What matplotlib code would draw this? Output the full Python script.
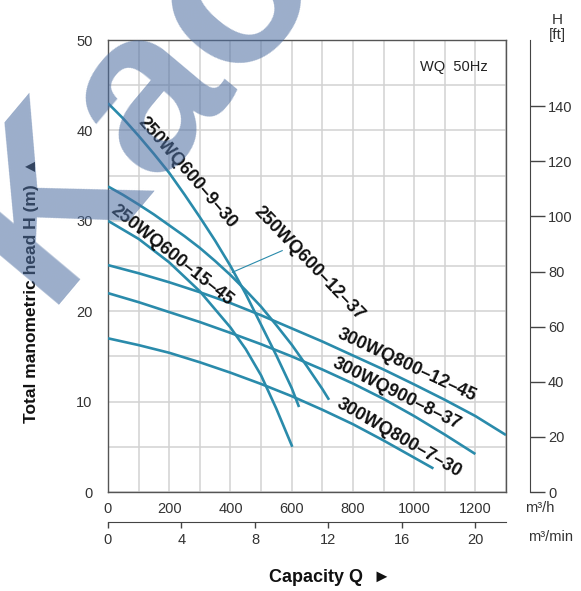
import matplotlib
matplotlib.use('Agg')
import matplotlib.pyplot as plt

plt.rcParams['font.family'] = ['Liberation Sans', 'DejaVu Sans']

# pump curves, capacity Q [m3/h] vs head H [m]
q_9_30  = [0, 50, 100, 150, 200, 250, 300, 350, 400, 450, 500, 550, 600, 624]
h_9_30  = [43.0, 41.3, 39.4, 37.4, 35.3, 32.9, 30.4, 27.8, 25.0, 21.9, 18.5, 15.1, 11.5, 9.4]
q_12_37 = [0, 50, 100, 150, 200, 250, 300, 350, 400, 450, 500, 550, 600, 650, 700, 722]
h_12_37 = [33.8, 32.85, 31.8, 30.7, 29.5, 28.3, 27.0, 25.55, 24.0, 22.3, 20.5, 18.45,
           16.3, 13.9, 11.4, 10.2]
q_15_45 = [0, 100, 200, 300, 400, 450, 500, 550, 602]
h_15_45 = [30.0, 28.0, 25.4, 22.2, 18.2, 15.8, 12.9, 9.2, 5.0]
q_800_12 = [0, 100, 200, 300, 400, 500, 600, 700, 800, 900, 1000, 1100, 1200, 1300]
h_800_12 = [25.1, 24.2, 23.2, 22.1, 20.9, 19.55, 18.1, 16.65, 15.1, 13.55, 11.9, 10.2, 8.4, 6.3]
q_900_8  = [0, 100, 200, 300, 400, 500, 600, 700, 800, 900, 1000, 1100, 1200]
h_900_8  = [22.0, 21.0, 19.9, 18.8, 17.6, 16.35, 15.0, 13.55, 12.0, 10.3, 8.4, 6.35, 4.2]
q_800_7  = [0, 100, 200, 300, 400, 500, 600, 700, 800, 900, 1000, 1063]
h_800_7  = [17.0, 16.25, 15.4, 14.35, 13.2, 11.95, 10.6, 9.1, 7.5, 5.7, 3.8, 2.6]

names = ['250WQ600–9–30', '250WQ600–12–37', '250WQ600–15–45',
         '300WQ800–12–45', '300WQ900–8–37', '300WQ800–7–30']
curves = [(q_9_30, h_9_30), (q_12_37, h_12_37), (q_15_45, h_15_45),
          (q_800_12, h_800_12), (q_900_8, h_900_8), (q_800_7, h_800_7)]

q_ticks   = [0, 200, 400, 600, 800, 1000, 1200]
h_ticks   = [0, 10, 20, 30, 40, 50]
min_ticks = [0, 4, 8, 12, 16, 20]
ft_ticks  = [0, 20, 40, 60, 80, 100, 120, 140]

# label placement: (Q, H, angle)
label_pos = [(258, 35.3, -49), (657, 25.3, -46), (210, 26.2, -38.5),
             (977, 14.0, -25), (942, 10.8, -26.5), (950, 6.0, -30)]
leader = ([569, 406], [26.7, 24.3])

COL  = '#2a8bab'
DARK = '#333333'

fig = plt.figure(figsize=(5.81, 5.91), dpi=100)
ax  = fig.add_axes([108/581, 1-492/591, 398/581, 452/591])

for q, h in curves:
    ax.plot(q, h, color=COL, lw=1.9, solid_capstyle='butt',
            solid_joinstyle='round', zorder=3)
ax.plot(*leader, color=COL, lw=0.8, zorder=3)

for name, (x, y, a) in zip(names, label_pos):
    ax.text(x, y, name, rotation=a, rotation_mode='anchor',
            ha='center', va='center', fontsize=13, fontweight='bold',
            color='#111111', zorder=4)

ax.set_xlim(0, 1300)
ax.set_ylim(0, 50)
ax.set_xticks(q_ticks)
ax.set_xticks(range(0, 1301, 100), minor=True)
ax.set_yticks(h_ticks)
ax.set_yticks(range(0, 51, 5), minor=True)
ax.grid(which='both', color='#d2d2d2', lw=1.1, zorder=0)
ax.tick_params(which='both', length=0)
ax.tick_params(axis='x', pad=7, labelsize=10.5, labelcolor=DARK)
ax.tick_params(axis='y', pad=11, labelsize=10.5, labelcolor=DARK)
for s in ax.spines.values():
    s.set_color('#555555')
    s.set_linewidth(1.0)

ax.text(0.955, 0.94, 'WQ  50Hz', transform=ax.transAxes, ha='right',
        va='center', fontsize=10.5, color='#222222')

# m3/min scale
secx = ax.secondary_xaxis(-30/452, functions=(lambda q: q/60, lambda m: m*60))
secx.set_xticks(min_ticks)
secx.tick_params(direction='out', length=4, width=1, pad=4,
                 labelsize=10.5, labelcolor=DARK, color='#444444')
secx.spines['bottom'].set_color('#444444')

# ft scale
secy = ax.secondary_yaxis(1 + 24/398, functions=(lambda m: m*3.2808, lambda f: f/3.2808))
secy.set_yticks(ft_ticks)
secy.tick_params(direction='out', length=11, width=1, pad=2,
                 labelsize=10.5, labelcolor=DARK, color='#444444')
secy.spines['right'].set_color('#444444')

fig.text(557/581, 1-20/591, 'H', ha='center', va='center', fontsize=11, color=DARK)
fig.text(557/581, 1-35/591, '[ft]', ha='center', va='center', fontsize=11, color=DARK)
fig.text(540/581, 1-508/591, 'm³/h', ha='center', va='center', fontsize=10.5, color=DARK)
fig.text(551/581, 1-537/591, 'm³/min', ha='center', va='center', fontsize=10.5, color=DARK)

fig.text(330/581, 1-577/591, 'Capacity Q  ►', ha='center', va='center',
         fontsize=13, fontweight='bold', color='#111111')
fig.text(32/581, 1-290/591, 'Total manometric head H (m)  ▲', ha='center',
         va='center', rotation=90, fontsize=12.5, fontweight='bold', color='#111111')

# watermark
fig.text(44/581, 1-305/591, 'Kao', rotation=50, rotation_mode='anchor',
         ha='left', va='baseline', fontsize=166, fontweight='bold',
         color=(0.30, 0.43, 0.63), alpha=0.56, zorder=10)

fig.savefig('out.png', dpi=100)
